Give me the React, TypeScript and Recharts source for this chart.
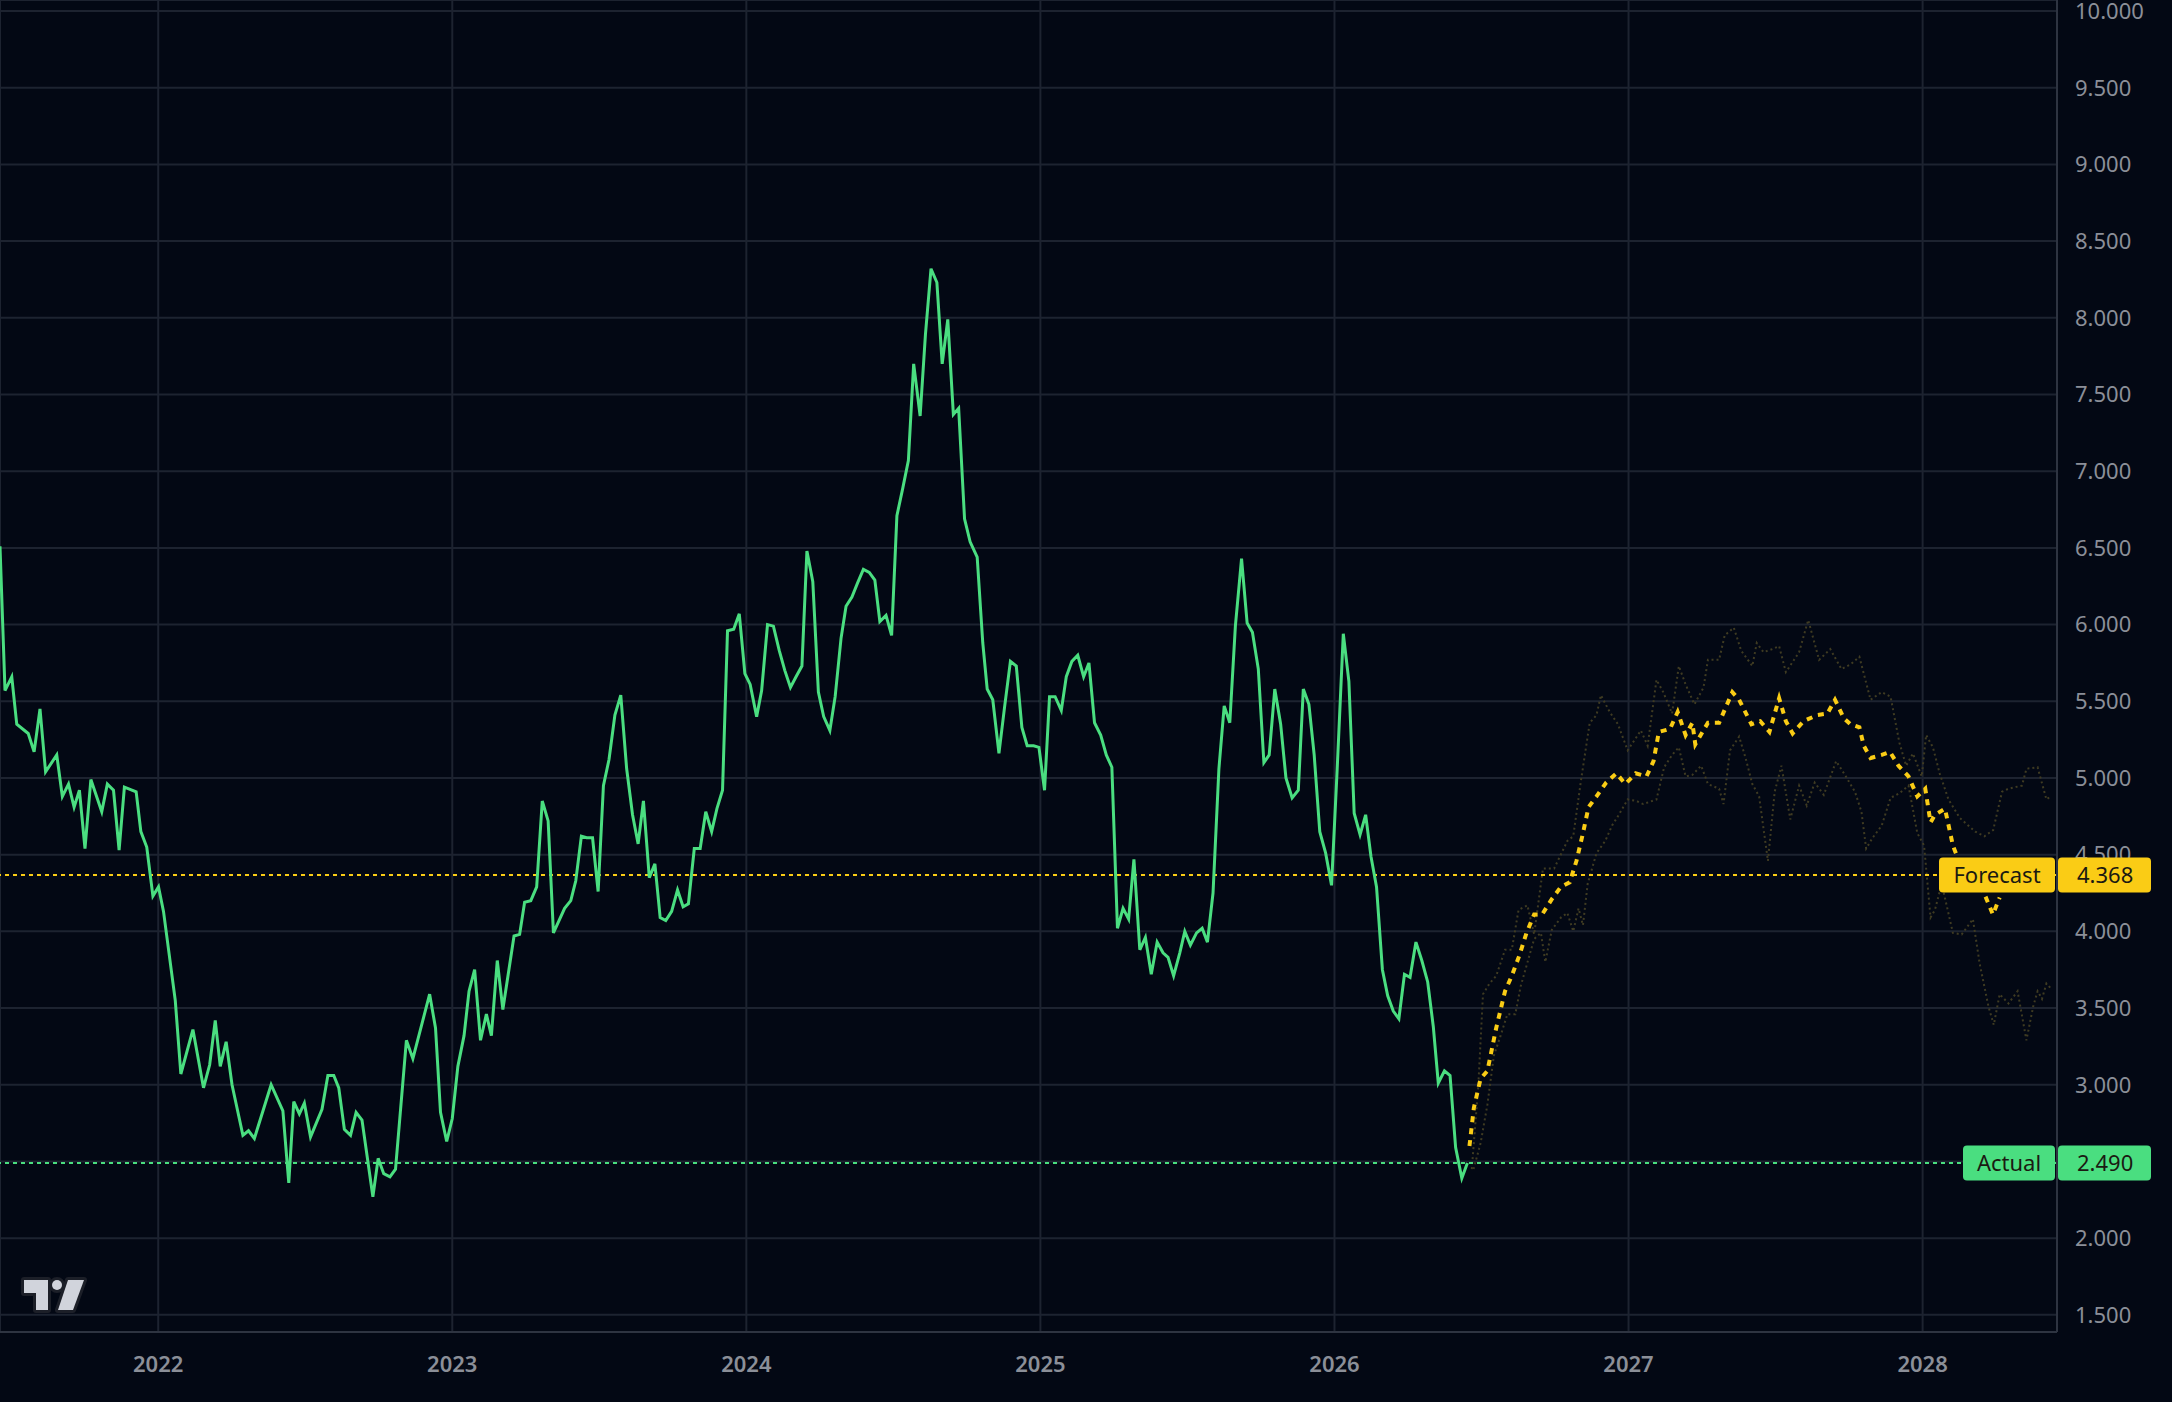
import { CartesianGrid, Line, LineChart, ReferenceLine, XAxis, YAxis } from "recharts";

// ---- data (decimal year, value) ----
const actualTime = [
  2021.462, 2021.479, 2021.502, 2021.519, 2021.558, 2021.578, 2021.598, 2021.617, 2021.655, 2021.674,
  2021.695, 2021.714, 2021.732, 2021.751, 2021.771, 2021.808, 2021.827, 2021.848, 2021.867, 2021.885,
  2021.925, 2021.941, 2021.961, 2021.982, 2022.001, 2022.018, 2022.058, 2022.077, 2022.118, 2022.154,
  2022.175, 2022.194, 2022.211, 2022.231, 2022.251, 2022.288, 2022.307, 2022.327, 2022.384, 2022.424,
  2022.444, 2022.461, 2022.48, 2022.497, 2022.518, 2022.557, 2022.577, 2022.597, 2022.614, 2022.633,
  2022.654, 2022.673, 2022.693, 2022.73, 2022.748, 2022.767, 2022.788, 2022.807, 2022.844, 2022.866,
  2022.923, 2022.943, 2022.96, 2022.981, 2023.0, 2023.019, 2023.04, 2023.057, 2023.076, 2023.096,
  2023.116, 2023.133, 2023.153, 2023.172, 2023.21, 2023.229, 2023.246, 2023.267, 2023.287, 2023.306,
  2023.326, 2023.344, 2023.382, 2023.403, 2023.42, 2023.439, 2023.457, 2023.477, 2023.496, 2023.514,
  2023.533, 2023.553, 2023.573, 2023.593, 2023.613, 2023.632, 2023.65, 2023.67, 2023.689, 2023.707,
  2023.726, 2023.746, 2023.766, 2023.785, 2023.803, 2023.823, 2023.843, 2023.862, 2023.882, 2023.9,
  2023.919, 2023.936, 2023.957, 2023.976, 2023.995, 2024.013, 2024.035, 2024.052, 2024.072, 2024.092,
  2024.112, 2024.131, 2024.15, 2024.169, 2024.189, 2024.206, 2024.226, 2024.245, 2024.263, 2024.284,
  2024.302, 2024.322, 2024.339, 2024.359, 2024.378, 2024.398, 2024.418, 2024.437, 2024.454, 2024.475,
  2024.494, 2024.512, 2024.532, 2024.551, 2024.569, 2024.591, 2024.609, 2024.628, 2024.648, 2024.666,
  2024.685, 2024.704, 2024.722, 2024.742, 2024.761, 2024.785, 2024.804, 2024.819, 2024.838, 2024.859,
  2024.878, 2024.898, 2024.918, 2024.937, 2024.955, 2024.977, 2024.995, 2025.014, 2025.031, 2025.05,
  2025.071, 2025.088, 2025.107, 2025.127, 2025.147, 2025.165, 2025.184, 2025.205, 2025.224, 2025.243,
  2025.262, 2025.281, 2025.3, 2025.318, 2025.338, 2025.357, 2025.377, 2025.397, 2025.417, 2025.434,
  2025.453, 2025.474, 2025.491, 2025.51, 2025.531, 2025.55, 2025.568, 2025.587, 2025.607, 2025.625,
  2025.644, 2025.663, 2025.684, 2025.703, 2025.721, 2025.741, 2025.76, 2025.778, 2025.797, 2025.817,
  2025.835, 2025.856, 2025.877, 2025.894, 2025.913, 2025.931, 2025.95, 2025.97, 2025.99, 2026.009,
  2026.03, 2026.049, 2026.067, 2026.087, 2026.106, 2026.124, 2026.143, 2026.163, 2026.181, 2026.2,
  2026.219, 2026.238, 2026.257, 2026.277, 2026.297, 2026.317, 2026.336, 2026.353, 2026.374, 2026.393,
  2026.412, 2026.433, 2026.452,
];
const actualValue = [
  6.51, 5.57, 5.66, 5.35, 5.29, 5.17, 5.45, 5.04, 5.15, 4.88,
  4.96, 4.81, 4.92, 4.54, 4.99, 4.78, 4.96, 4.92, 4.53, 4.94,
  4.91, 4.65, 4.55, 4.23, 4.29, 4.13, 3.55, 3.07, 3.36, 2.98,
  3.13, 3.42, 3.12, 3.28, 3.0, 2.67, 2.7, 2.65, 3.0, 2.83,
  2.36, 2.89, 2.81, 2.88, 2.66, 2.84, 3.06, 3.06, 2.98, 2.71,
  2.67, 2.82, 2.77, 2.27, 2.52, 2.42, 2.4, 2.45, 3.29, 3.17,
  3.59, 3.37, 2.82, 2.63, 2.78, 3.12, 3.32, 3.61, 3.75, 3.29,
  3.46, 3.32, 3.81, 3.49, 3.97, 3.98, 4.19, 4.2, 4.29, 4.85,
  4.72, 3.99, 4.15, 4.2, 4.33, 4.62, 4.61, 4.61, 4.26, 4.95,
  5.12, 5.41, 5.54, 5.06, 4.76, 4.57, 4.85, 4.35, 4.44, 4.09,
  4.07, 4.13, 4.27, 4.16, 4.18, 4.54, 4.54, 4.78, 4.65, 4.8,
  4.92, 5.96, 5.97, 6.07, 5.68, 5.61, 5.4, 5.57, 6.0, 5.99,
  5.83, 5.7, 5.59, 5.66, 5.73, 6.48, 6.28, 5.56, 5.4, 5.31,
  5.53, 5.91, 6.12, 6.18, 6.27, 6.36, 6.34, 6.29, 6.02, 6.06,
  5.93, 6.71, 6.89, 7.07, 7.7, 7.36, 7.89, 8.32, 8.23, 7.7,
  7.99, 7.37, 7.41, 6.69, 6.54, 6.44, 5.88, 5.58, 5.51, 5.16,
  5.46, 5.76, 5.73, 5.33, 5.21, 5.21, 5.2, 4.92, 5.53, 5.53,
  5.44, 5.66, 5.76, 5.8, 5.66, 5.75, 5.36, 5.28, 5.15, 5.07,
  4.02, 4.15, 4.08, 4.47, 3.88, 3.96, 3.72, 3.93, 3.86, 3.83,
  3.71, 3.86, 4.0, 3.91, 3.99, 4.02, 3.93, 4.25, 5.06, 5.47,
  5.36, 5.99, 6.43, 6.01, 5.95, 5.71, 5.1, 5.15, 5.58, 5.35,
  5.0, 4.87, 4.92, 5.58, 5.48, 5.15, 4.65, 4.51, 4.3, 5.05,
  5.94, 5.63, 4.77, 4.63, 4.76, 4.49, 4.29, 3.75, 3.58, 3.48,
  3.43, 3.72, 3.7, 3.93, 3.81, 3.67, 3.38, 3.01, 3.09, 3.06,
  2.59, 2.39, 2.49,
];

const forecastTime = [
  2026.459, 2026.474, 2026.497, 2026.52, 2026.55, 2026.58, 2026.603, 2026.63, 2026.653, 2026.679,
  2026.706, 2026.739, 2026.77, 2026.8, 2026.823, 2026.845, 2026.864, 2026.891, 2026.924, 2026.959,
  2026.989, 2027.024, 2027.061, 2027.085, 2027.103, 2027.141, 2027.167, 2027.194, 2027.217, 2027.227,
  2027.27, 2027.308, 2027.353, 2027.376, 2027.418, 2027.448, 2027.479, 2027.512, 2027.535, 2027.558,
  2027.595, 2027.641, 2027.676, 2027.702, 2027.732, 2027.755, 2027.785, 2027.8, 2027.823, 2027.861,
  2027.889, 2027.918, 2027.952, 2027.982, 2028.009, 2028.027, 2028.042, 2028.076, 2028.103, 2028.133,
  2028.171, 2028.209, 2028.239, 2028.262,
];
const forecastValue = [
  2.6, 2.85, 3.04, 3.09, 3.37, 3.61, 3.71, 3.85, 3.99, 4.11,
  4.11, 4.21, 4.29, 4.32, 4.46, 4.64, 4.81, 4.88, 4.97, 5.03,
  4.96, 5.03, 5.01, 5.11, 5.3, 5.32, 5.43, 5.28, 5.36, 5.22,
  5.36, 5.36, 5.56, 5.51, 5.35, 5.37, 5.3, 5.52, 5.37, 5.29,
  5.37, 5.41, 5.42, 5.51, 5.39, 5.35, 5.33, 5.21, 5.13, 5.15,
  5.17, 5.08, 5.01, 4.88, 4.93, 4.71, 4.76, 4.8, 4.56, 4.41,
  4.36, 4.25, 4.11, 4.22,
];

const upperTime = [
  2026.467, 2026.489, 2026.505, 2026.527, 2026.55, 2026.58, 2026.603, 2026.626, 2026.656, 2026.679,
  2026.709, 2026.747, 2026.792, 2026.812, 2026.838, 2026.868, 2026.891, 2026.906, 2026.936, 2026.964,
  2026.997, 2027.042, 2027.065, 2027.095, 2027.118, 2027.148, 2027.171, 2027.194, 2027.224, 2027.255,
  2027.27, 2027.308, 2027.327, 2027.358, 2027.383, 2027.421, 2027.436, 2027.459, 2027.489, 2027.512,
  2027.535, 2027.58, 2027.611, 2027.648, 2027.686, 2027.724, 2027.755, 2027.785, 2027.823, 2027.861,
  2027.891, 2027.921, 2027.944, 2027.967, 2027.997, 2028.012, 2028.035, 2028.058, 2028.088, 2028.126,
  2028.179, 2028.21, 2028.24, 2028.27, 2028.292, 2028.338, 2028.353, 2028.391, 2028.421, 2028.436,
];
const upperValue = [
  2.45, 2.99, 3.59, 3.66, 3.71, 3.88, 3.88, 4.14, 4.17, 3.98,
  4.41, 4.41, 4.59, 4.62, 4.98, 5.36, 5.41, 5.54, 5.43, 5.35,
  5.18, 5.31, 5.21, 5.64, 5.56, 5.42, 5.73, 5.61, 5.48, 5.59,
  5.77, 5.77, 5.93, 5.98, 5.83, 5.73, 5.88, 5.82, 5.84, 5.86,
  5.69, 5.82, 6.03, 5.77, 5.84, 5.71, 5.74, 5.79, 5.51, 5.56,
  5.53, 5.23, 5.08, 5.16, 5.01, 5.28, 5.2, 5.03, 4.86, 4.74,
  4.65, 4.62, 4.66, 4.91, 4.93, 4.95, 5.06, 5.07, 4.86, 4.88,
];

const lowerTime = [
  2026.473, 2026.497, 2026.52, 2026.542, 2026.565, 2026.588, 2026.615, 2026.633, 2026.664, 2026.679,
  2026.702, 2026.717, 2026.739, 2026.77, 2026.792, 2026.812, 2026.83, 2026.845, 2026.861, 2026.891,
  2026.921, 2026.944, 2026.967, 2026.997, 2027.027, 2027.05, 2027.095, 2027.121, 2027.148, 2027.171,
  2027.194, 2027.217, 2027.247, 2027.27, 2027.308, 2027.323, 2027.345, 2027.376, 2027.398, 2027.421,
  2027.444, 2027.474, 2027.497, 2027.52, 2027.55, 2027.58, 2027.606, 2027.633, 2027.664, 2027.706,
  2027.739, 2027.77, 2027.792, 2027.808, 2027.83, 2027.861, 2027.891, 2027.921, 2027.952, 2027.982,
  2028.005, 2028.027, 2028.042, 2028.065, 2028.103, 2028.133, 2028.171, 2028.194, 2028.224, 2028.242,
  2028.262, 2028.292, 2028.323, 2028.353, 2028.376, 2028.391, 2028.406, 2028.421, 2028.44,
];
const lowerValue = [
  2.45, 2.62, 2.87, 3.19, 3.32, 3.46, 3.46, 3.64, 3.85, 3.95,
  3.99, 3.8, 4.01, 4.09, 4.12, 4.0, 4.15, 4.04, 4.31, 4.51,
  4.59, 4.69, 4.76, 4.86, 4.85, 4.83, 4.86, 5.07, 5.15, 5.2,
  5.01, 5.02, 5.08, 4.96, 4.93, 4.83, 5.18, 5.27, 5.13, 4.96,
  4.88, 4.46, 4.91, 5.08, 4.73, 4.95, 4.82, 4.97, 4.89, 5.11,
  5.01, 4.91, 4.78, 4.54, 4.61, 4.69, 4.87, 4.9, 4.95, 4.64,
  4.56, 4.09, 4.14, 4.31, 3.99, 3.98, 4.08, 3.79, 3.51, 3.39,
  3.59, 3.53, 3.61, 3.29, 3.51, 3.61, 3.56, 3.66, 3.62,
];

const yearTicks = [2022, 2023, 2024, 2025, 2026, 2027, 2028];
const priceTicks = [1.5, 2, 2.5, 3, 3.5, 4, 4.5, 5, 5.5, 6, 6.5, 7, 7.5, 8, 8.5, 9, 9.5, 10];

const forecastLevel = 4.368;
const actualLevel = 2.49;

// ---- styling ----
const W = 2172;
const H = 1402;
const X_DOMAIN: [number, number] = [2021.462, 2028.457];
const Y_DOMAIN: [number, number] = [1.388, 10.072];
const AXIS_W = 115;
const AXIS_H = 70;
const BG = "#030814";
const GRID = "#1d2330";
const BORDER = "#2e3441";
const TEXT = "#8b8f98";
const GREEN = "#4ade80";
const YELLOW = "#facc15";
const FAINT = "#3f3b22";
const FONT = "'Noto Sans', 'Open Sans', sans-serif";

const toPoints = (time: number[], value: number[]) =>
  time.map((t, i) => ({ t, v: value[i] }));

const actualData = toPoints(actualTime, actualValue);
const forecastData = toPoints(forecastTime, forecastValue);
const upperData = toPoints(upperTime, upperValue);
const lowerData = toPoints(lowerTime, lowerValue);

function priceLabel(name: string, color: string, nameWidth: number, level: number) {
  return (props: any) => {
    const vb = props.viewBox || {};
    const right = (vb.x ?? 0) + (vb.width ?? 0);
    const y = vb.y ?? 0;
    const h = 35;
    return (
      <g>
        <rect x={right - nameWidth - 2} y={y - h / 2} width={nameWidth} height={h} rx={4} fill={color} />
        <text x={right - nameWidth / 2 - 2} y={y} dy="0.35em" textAnchor="middle" fontSize={22} fontFamily={FONT} fill="#1b1a12">
          {name}
        </text>
        <rect x={right + 1} y={y - h / 2} width={93} height={h} rx={4} fill={color} />
        <text x={right + 20} y={y} dy="0.35em" fontSize={22} fontFamily={FONT} fill="#1b1a12">
          {level.toFixed(3)}
        </text>
      </g>
    );
  };
}

function Logo() {
  return (
    <svg width={110} height={60} style={{ position: "absolute", left: 0, top: 1266 }}>
      <g stroke="#1c1f28" strokeWidth={6} strokeLinejoin="round" fill="#1c1f28">
        <path d="M24 14 H48 V44 H36 V27 H24 Z" />
        <circle cx={57} cy={19} r={5} />
        <path d="M68 14 H84 L73 44 H58 Z" />
      </g>
      <g fill="#d1d4dc">
        <path d="M24 14 H48 V44 H36 V27 H24 Z" />
        <circle cx={57} cy={19} r={5} />
        <path d="M68 14 H84 L73 44 H58 Z" />
      </g>
    </svg>
  );
}

// same plot geometry as the main chart, only carries the price labels so they sit above the axis text
function LabelOverlay() {
  return (
    <LineChart
      width={W}
      height={H}
      data={forecastData}
      margin={{ top: 0, right: 0, bottom: 0, left: 0 }}
      style={{ position: "absolute", left: 0, top: 0, pointerEvents: "none" }}
    >
      <XAxis type="number" dataKey="t" domain={X_DOMAIN} allowDataOverflow height={AXIS_H} tick={false} tickLine={false} axisLine={false} />
      <YAxis orientation="right" type="number" domain={Y_DOMAIN} allowDataOverflow width={AXIS_W} tick={false} tickLine={false} axisLine={false} />
      <ReferenceLine y={forecastLevel} stroke="none" label={priceLabel("Forecast", YELLOW, 116, forecastLevel)} />
      <ReferenceLine y={actualLevel} stroke="none" label={priceLabel("Actual", GREEN, 92, actualLevel)} />
    </LineChart>
  );
}

export default function App() {
  return (
    <div style={{ position: "absolute", left: 0, top: 0, width: W, height: H, background: BG, overflow: "hidden" }}>
      <LineChart width={W} height={H} margin={{ top: 0, right: 0, bottom: 0, left: 0 }} style={{ fontFamily: FONT }}>
        <CartesianGrid stroke={GRID} strokeWidth={2} />
        <XAxis
          type="number"
          dataKey="t"
          domain={X_DOMAIN}
          allowDataOverflow
          ticks={yearTicks}
          interval={0}
          height={AXIS_H}
          tickLine={false}
          tickSize={0}
          tickMargin={24}
          axisLine={{ stroke: BORDER, strokeWidth: 2 }}
          tick={{ fill: TEXT, fontSize: 22, fontWeight: 600, fontFamily: FONT }}
          tickFormatter={(v: number) => String(v)}
        />
        <YAxis
          orientation="right"
          type="number"
          domain={Y_DOMAIN}
          allowDataOverflow
          ticks={priceTicks}
          interval={0}
          width={AXIS_W}
          tickLine={false}
          tickSize={0}
          tickMargin={18}
          axisLine={{ stroke: BORDER, strokeWidth: 2 }}
          tick={{ fill: TEXT, fontSize: 22, fontFamily: FONT, textAnchor: "start" }}
          tickFormatter={(v: number) => v.toFixed(3)}
        />
        <Line data={upperData} dataKey="v" type="linear" stroke={FAINT} strokeWidth={2} strokeDasharray="2 3" dot={false} activeDot={false} isAnimationActive={false} />
        <Line data={lowerData} dataKey="v" type="linear" stroke={FAINT} strokeWidth={2} strokeDasharray="2 3" dot={false} activeDot={false} isAnimationActive={false} />
        <ReferenceLine y={forecastLevel} stroke={YELLOW} strokeWidth={2} strokeDasharray="4 4" />
        <ReferenceLine y={actualLevel} stroke={GREEN} strokeWidth={2} strokeDasharray="4 4" />
        <Line data={forecastData} dataKey="v" type="linear" stroke={YELLOW} strokeWidth={4} strokeDasharray="6 6" dot={false} activeDot={false} isAnimationActive={false} />
        <Line data={actualData} dataKey="v" type="linear" stroke={GREEN} strokeWidth={3} dot={false} activeDot={false} isAnimationActive={false} />
      </LineChart>
      <LabelOverlay />
      <Logo />
    </div>
  );
}
